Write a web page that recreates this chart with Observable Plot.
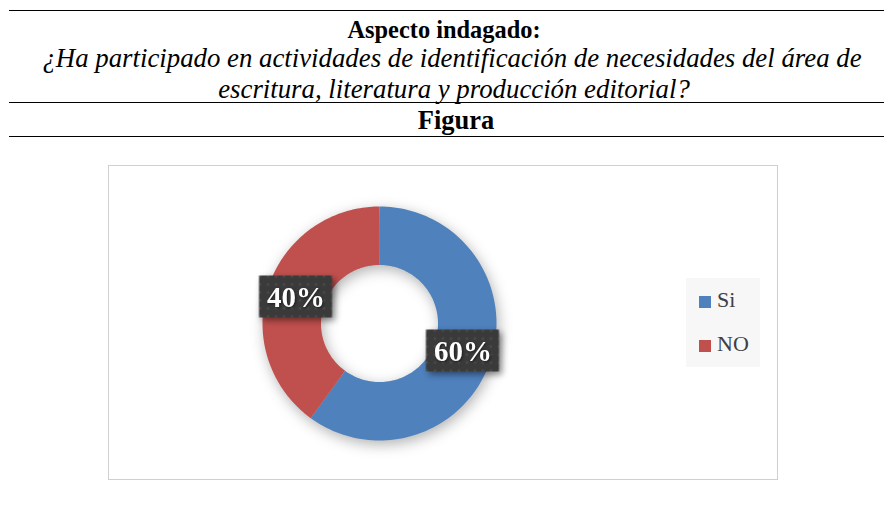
<!DOCTYPE html>
<html>
<head>
<meta charset="utf-8">
<script src="https://cdn.jsdelivr.net/npm/d3@7"></script>
<script src="https://cdn.jsdelivr.net/npm/@observablehq/plot@0.6"></script>
<style>
  html, body { margin: 0; padding: 0; background: #fff; }
  body { width: 884px; height: 525px; position: relative; overflow: hidden; font-family: "Liberation Serif", "Times New Roman", serif; color: #000; }
  .hr { position: absolute; left: 9px; right: 0; height: 0; border-top: 1.3px solid #000; }
  .t { position: absolute; left: 0; width: 904px; text-align: center; white-space: nowrap; font-size: 24px; line-height: 30px; }
  .b { font-weight: bold; }
  .i { font-style: italic; font-size: 26.8px; }
  #frame { position: absolute; left: 108px; top: 165px; width: 668px; height: 313px; border: 1px solid #d0d0d0; background: #fff; }
  #legend { position: absolute; left: 686px; top: 278px; width: 74px; height: 89px; background: #f7f7f7; font-family: "Liberation Serif", serif; color: #404040; font-size: 22px; }
  .lg { position: absolute; left: 13px; height: 24px; line-height: 24px; }
  .sw { display: inline-block; width: 12px; height: 12px; margin-right: 6px; vertical-align: -1px; }
</style>
</head>
<body>
<div class="hr" style="top:10px"></div>
<div class="t b" style="top:15px; font-size:24.4px; left:-8px">Aspecto indagado:</div>
<div class="t i" style="top:43px">¿Ha participado en actividades de identificación de necesidades del área de</div>
<div class="t i" style="top:74px; left:2px">escritura, literatura y producción editorial?</div>
<div class="hr" style="top:102px"></div>
<div class="t b" style="top:105px; font-size:26.5px; left:4px">Figura</div>
<div class="hr" style="top:136px"></div>
<div id="frame"></div>
<div id="legend"></div>
<script>
const categories = ["Si", "NO"];
const values = [60, 40];
const labels = ["60%", "40%"];
const colors = ["#4F81BD", "#C0504D"];

const innerRatio = 0.5;
const pie = d3.pie().sort(null).value(d => d.value);
const arcs = pie(categories.map((c, i) => ({ category: c, value: values[i], label: labels[i] })));

// ring outline points for each slice, derived from the pie angles
const ringPts = [];
for (const a of arcs) {
  const n = 120;
  for (let k = 0; k <= n; k++) {
    const t = a.startAngle + (a.endAngle - a.startAngle) * k / n;
    ringPts.push({ category: a.data.category, x: Math.sin(t), y: Math.cos(t) });
  }
  for (let k = n; k >= 0; k--) {
    const t = a.startAngle + (a.endAngle - a.startAngle) * k / n;
    ringPts.push({ category: a.data.category, x: innerRatio * Math.sin(t), y: innerRatio * Math.cos(t) });
  }
}
const labelPts = arcs.map(a => {
  const m = (a.startAngle + a.endAngle) / 2, r = (1 + innerRatio) / 2;
  return { category: a.data.category, label: a.data.label, x: r * Math.sin(m), y: r * Math.cos(m) };
});

const boxSymbol = { draw(ctx) { ctx.rect(-37, -21, 73, 42); } };

const plot = Plot.plot({
  width: 668,
  height: 313,
  marginLeft: 153,
  marginRight: 281,
  marginTop: 40,
  marginBottom: 39,
  x: { domain: [-1, 1], axis: null },
  y: { domain: [-1, 1], axis: null },
  color: { domain: categories, range: colors },
  style: { background: "transparent", overflow: "visible" },
  marks: [
    Plot.line(ringPts, { x: "x", y: "y", z: "category", fill: "category", stroke: "none", curve: "linear" }),
    Plot.dot(labelPts, { x: "x", y: "y", symbol: boxSymbol, r: 10, fill: "url(#dotpat)", stroke: "none" }),
    Plot.text(labelPts, { x: "x", y: "y", text: "label", fill: "#fff", fontSize: 29, fontWeight: "bold", fontFamily: "Liberation Serif, serif", dy: 1 })
  ]
});

const svg = d3.select(plot);
const defs = svg.insert("defs", ":first-child");
const pat = defs.append("pattern").attr("id", "dotpat").attr("patternUnits", "userSpaceOnUse").attr("width", 8).attr("height", 8);
pat.append("rect").attr("width", 8).attr("height", 8).attr("fill", "#3a3a3a");
pat.append("circle").attr("cx", 4).attr("cy", 4).attr("r", 1.3).attr("fill", "#4e4e4e");
svg.selectAll("g[aria-label='line']").style("filter", "drop-shadow(2px 4px 7px rgba(0,0,0,0.30))");
svg.selectAll("g[aria-label='dot']").style("filter", "drop-shadow(3px 3px 3px rgba(0,0,0,0.45))");
svg.selectAll("g[aria-label='text']").style("filter", "drop-shadow(1px 1px 1px rgba(0,0,0,0.5))");
document.getElementById("frame").appendChild(plot);

const legend = d3.select("#legend");
categories.forEach((c, i) => {
  const row = legend.append("div").attr("class", "lg").style("top", (10 + i * 44) + "px");
  row.append("span").attr("class", "sw").style("background", colors[i]);
  row.append("span").text(c);
});
</script>
</body>
</html>
